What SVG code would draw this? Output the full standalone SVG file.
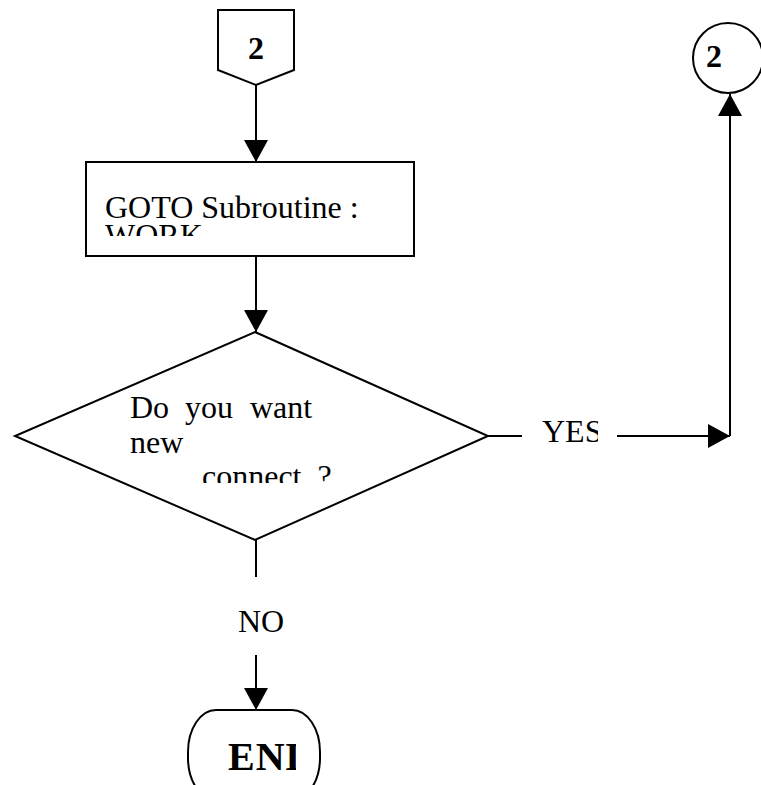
<svg xmlns="http://www.w3.org/2000/svg" width="761" height="785" viewBox="0 0 761 785">
  <style>
    .shape { fill: #ffffff; stroke: #000000; stroke-width: 2; }
    .line { fill: none; stroke: #000000; stroke-width: 2; }
    .txt { font-family: "Liberation Serif", "Times New Roman", serif; font-size: 32px; fill: #000000; }
    .bold { font-weight: bold; }
    .term { font-size: 40px; letter-spacing: 1px; }
  </style>
  <defs>
    <marker id="arrow" viewBox="0 0 22 24" refX="22" refY="12" markerWidth="22" markerHeight="24" markerUnits="userSpaceOnUse" orient="auto">
      <path d="M0,0 L22,12 L0,24 Z" fill="#000000"/>
    </marker>
    <clipPath id="clipGoto"><rect x="95" y="170" width="310" height="66"/></clipPath>
    <clipPath id="clipQuestion"><rect x="120" y="385" width="220" height="98"/></clipPath>
    <clipPath id="clipYes"><rect x="535" y="410" width="63" height="45"/></clipPath>
    <clipPath id="clipEnd"><rect x="200" y="720" width="96" height="65"/></clipPath>
  </defs>

  <!-- connectors -->
  <g id="connectors">
    <line class="line" x1="256" y1="85" x2="256" y2="162" marker-end="url(#arrow)"/>
    <line class="line" x1="256" y1="256" x2="256" y2="332" marker-end="url(#arrow)"/>
    <line class="line" x1="488" y1="436" x2="522" y2="436"/>
    <line class="line" x1="617" y1="436" x2="730" y2="436" marker-end="url(#arrow)"/>
    <line class="line" x1="730" y1="436" x2="730" y2="94" marker-end="url(#arrow)"/>
    <line class="line" x1="256" y1="540" x2="256" y2="577"/>
    <line class="line" x1="256" y1="655" x2="256" y2="710" marker-end="url(#arrow)"/>
  </g>

  <!-- off-page connector 2 -->
  <g id="offpage2">
    <polygon class="shape" points="218,10 294,10 294,70 256,85 218,70"/>
    <text class="txt bold" x="256" y="59" text-anchor="middle">2</text>
  </g>

  <!-- subroutine call -->
  <g id="gotoWork">
    <rect class="shape" x="86" y="162" width="328" height="94"/>
    <g clip-path="url(#clipGoto)">
      <text class="txt" x="105" y="218">GOTO Subroutine :</text>
      <text class="txt" x="105" y="246">WORK</text>
    </g>
  </g>

  <!-- decision -->
  <g id="decision">
    <polygon class="shape" points="255,332 488,436 255,540 15,436"/>
    <g clip-path="url(#clipQuestion)">
      <text class="txt" x="130" y="418">Do</text>
      <text class="txt" x="185" y="418">you</text>
      <text class="txt" x="250" y="418">want</text>
      <text class="txt" x="130" y="453">new</text>
      <text class="txt" x="202" y="487">connect&#160; ?</text>
    </g>
  </g>

  <!-- branch labels -->
  <g id="labelYes" clip-path="url(#clipYes)">
    <text class="txt" x="542" y="442">YES</text>
  </g>
  <g id="labelNo">
    <text class="txt" x="238" y="632">NO</text>
  </g>

  <!-- on-page connector 2 -->
  <g id="onpage2">
    <circle class="shape" cx="728" cy="58" r="35"/>
    <text class="txt bold" x="706" y="67">2</text>
  </g>

  <!-- terminator -->
  <g id="end">
    <rect class="shape" x="188" y="710" width="132" height="90" rx="28" ry="42"/>
    <g clip-path="url(#clipEnd)">
      <text class="txt bold term" x="228" y="770">END</text>
    </g>
  </g>
</svg>
